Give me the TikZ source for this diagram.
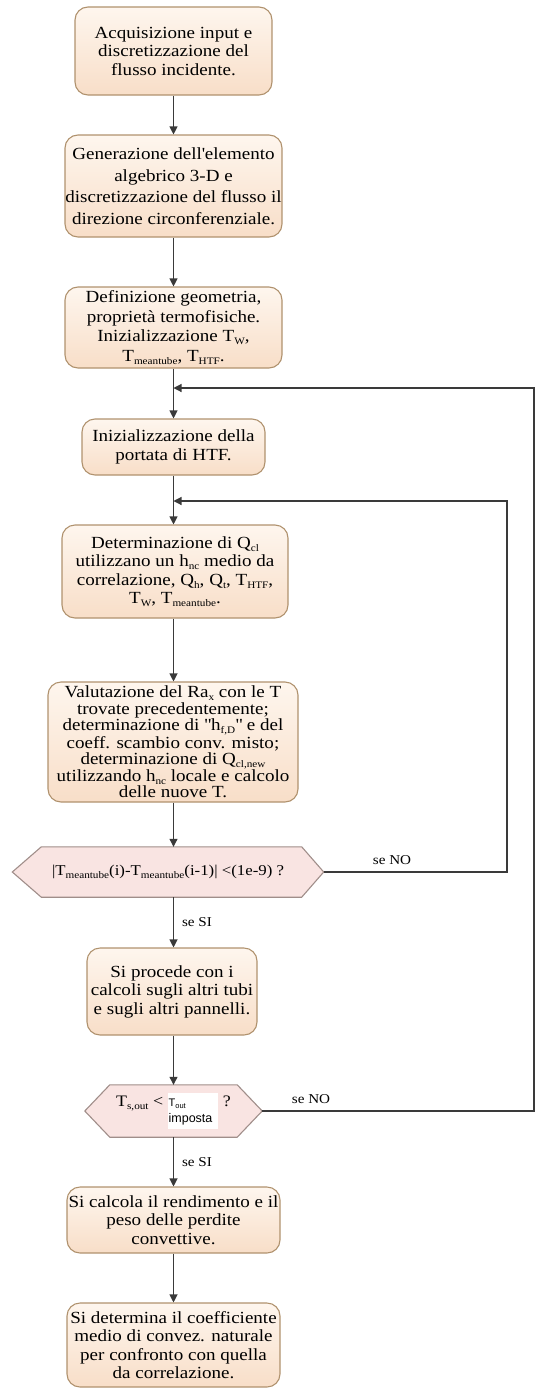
\documentclass[tikz,border=0pt]{standalone}
\usepackage{fontspec}
\setmainfont{Liberation Serif}[FakeStretch=1.12]
\setsansfont{Liberation Sans}
\usetikzlibrary{arrows.meta,calc}

\definecolor{boxtop}{HTML}{FEF6EE}
\definecolor{boxbot}{HTML}{F8DEC8}
\definecolor{boxline}{HTML}{B0926E}
\definecolor{decfill}{HTML}{F9E4E2}
\definecolor{decline}{HTML}{A08E8A}
\definecolor{wire}{HTML}{3A3A3A}

% lowered small index, as in T_w
\newcommand\lowtxt[1]{\raisebox{-0.4ex}{\fontsize{10}{10}\selectfont #1}}

\tikzset{
  stepbox/.style={rounded corners=13pt, draw=boxline, line width=1.1pt,
    top color=boxtop, bottom color=boxbot, align=center,
    inner sep=0pt, font=\fontsize{17}{18.5}\selectfont},
  decnode/.style={draw=none, inner sep=0pt, align=center},
  wireline/.style={draw=wire, line width=1.1pt},
  flow/.style={wireline, -{Triangle[length=8pt,width=8pt]}},
  answer/.style={font=\fontsize{13.5}{13.5}\selectfont, inner sep=0pt},
  hexfill/.style={fill=decfill, draw=decline, line width=1.1pt, line join=miter}
}

\begin{document}
\begin{tikzpicture}[x=1pt, y=-1pt]
\useasboundingbox (0,0) rectangle (536,1389);

% process steps
\node[stepbox, minimum width=197pt, minimum height=88pt] (b1) at (173.5,51)
  {Acquisizione input e\\discretizzazione del\\flusso incidente.};
\node[stepbox, minimum width=217pt, minimum height=102pt,
      font=\fontsize{17}{21.5}\selectfont] (b2) at (173.5,186)
  {Generazione dell\textquotesingle elemento\\algebrico 3-D e\\discretizzazione del flusso il\\direzione circonferenziale.};
\node[stepbox, minimum width=217pt, minimum height=81pt,
      font=\fontsize{17}{19.5}\selectfont] (b3) at (173.5,327.5)
  {Definizione geometria,\\proprietà termofisiche.\\Inizializzazione T\lowtxt{W},\\T\lowtxt{meantube}, T\lowtxt{HTF}.};
\node[stepbox, minimum width=183pt, minimum height=56pt] (b4) at (173.5,447)
  {Inizializzazione della\\portata di HTF.};
\node[stepbox, minimum width=226pt, minimum height=93pt] (b5) at (175,571.5)
  {Determinazione di Q\lowtxt{cl}\\utilizzano un h\lowtxt{nc} medio da\\correlazione, Q\lowtxt{h}, Q\lowtxt{t}, T\lowtxt{HTF},\\T\lowtxt{W}, T\lowtxt{meantube}.};
\node[stepbox, minimum width=250pt, minimum height=120pt,
      font=\fontsize{17}{16.5}\selectfont] (b6) at (173,742)
  {Valutazione del Ra\lowtxt{x} con le T\\trovate precedentemente;\\determinazione di \textquotedbl h\lowtxt{f,D}\textquotedbl{} e del\\coeff. scambio conv. misto;\\determinazione di Q\lowtxt{cl,new}\\utilizzando h\lowtxt{nc} locale e calcolo\\delle nuove T.};

% first check: hexagon drawn around an empty frame node
\node[decnode, minimum width=311pt, minimum height=50pt] (d1) at (168,872) {};
\path[hexfill] (d1.west) -- ($(d1.north west)+(29,0)$) -- ($(d1.north east)+(-22,0)$)
  -- (d1.east) -- ($(d1.south east)+(-22,0)$) -- ($(d1.south west)+(29,0)$) -- cycle;
\node[decnode, font=\fontsize{15}{16}\selectfont] (d1t) at (d1.center)
  {|T\lowtxt{meantube}(i)-T\lowtxt{meantube}(i-1)| <(1e-9) ?};

\node[stepbox, minimum width=170pt, minimum height=87pt] (b7) at (172,991.5)
  {Si procede con i\\calcoli sugli altri tubi\\e sugli altri pannelli.};

% second check
\node[decnode, minimum width=177pt, minimum height=52pt] (d2) at (173.5,1111) {};
\path[hexfill] (d2.west) -- ($(d2.north west)+(25,0)$) -- ($(d2.north east)+(-25,0)$)
  -- (d2.east) -- ($(d2.south east)+(-25,0)$) -- ($(d2.south west)+(25,0)$) -- cycle;
\node[decnode, font=\fontsize{16}{18}\selectfont] (d2t) at (d2.center)
  {T\lowtxt{s,out} <
   \setlength{\fboxsep}{1pt}\raisebox{-1.2ex}{\colorbox{white}{\sffamily
   \begin{tabular}{@{}l@{\hspace{5pt}}}
   \fontsize{11}{11}\selectfont T\raisebox{-0.3ex}{\fontsize{7.5}{7.5}\selectfont out}\\[-2pt]
   \fontsize{12.5}{12.5}\selectfont imposta
   \end{tabular}}} ?};

\node[stepbox, minimum width=213pt, minimum height=66pt] (b8) at (173.5,1220)
  {Si calcola il rendimento e il\\peso delle perdite\\convettive.};
\node[stepbox, minimum width=213pt, minimum height=84pt] (b9) at (173.5,1345)
  {Si determina il coefficiente\\medio di convez. naturale\\per confronto con quella\\da correlazione.};

% junction points where the loops re-enter
\coordinate (j1) at (b3.south |- 0,388);
\coordinate (j2) at (b4.south |- 0,501);
\coordinate (r1) at (507,0);
\coordinate (r2) at (534,0);

% main flow
\draw[flow] (b1.south) -- (b1.south |- b2.north);
\draw[flow] (b2.south) -- (b2.south |- b3.north);
\draw[flow] (b3.south) -- (b3.south |- b4.north);
\draw[flow] (b4.south) -- (b4.south |- b5.north);
\draw[flow] (b5.south -| b4.south) -- (b4.south |- b6.north);
\draw[flow] (b6.south -| b4.south) -- (b4.south |- d1.north);
\draw[flow] (d1.south -| b4.south) -- (b4.south |- b7.north)
  node[answer, pos=0.5, right=8pt] {se SI};
\draw[flow] (b7.south -| b4.south) -- (b4.south |- d2.north);
\draw[flow] (d2.south) -- (b4.south |- b8.north)
  node[answer, pos=0.5, right=8pt] {se SI};
\draw[flow] (b8.south) -- (b9.north);

% loops back
\draw[flow] (d1.east) -- (r1 |- d1.east) -- (r1 |- j2) -- (j2);
\node[answer] at (392,860) {se NO};
\draw[flow] (d2.east) -- (r2 |- d2.east) -- (r2 |- j1) -- (j1);
\node[answer] at (311,1099) {se NO};
\end{tikzpicture}
\end{document}
